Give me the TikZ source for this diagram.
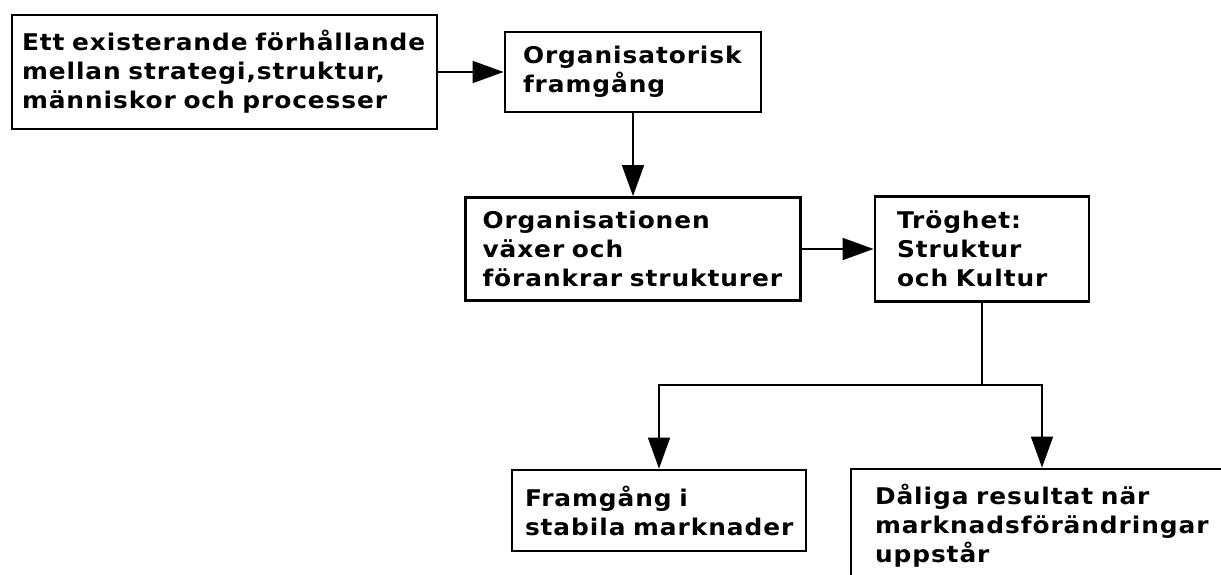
\documentclass[tikz,border=0pt]{standalone}
\usepackage{fontspec}
\setmainfont{DejaVu Sans}[FakeStretch=1.08, LetterSpace=4]
\usetikzlibrary{arrows.meta}

\begin{document}
\begin{tikzpicture}[x=1pt,y=-1pt,
  box/.style={draw=black, line width=2.8pt, fill=white, inner ysep=0pt,
    align=left, font=\fontsize{23}{29}\selectfont\bfseries},
  link/.style={line width=1.6pt, -{Triangle[length=31pt,width=22pt]}},
  wire/.style={line width=1.6pt}]
\useasboundingbox (0,0) rectangle (1221,575);
\clip (0,0) rectangle (1221,575);

% boxes: text width = box width - 2 x padding
\node[box, minimum width=425pt, minimum height=114pt, text width=405pt, inner xsep=10pt]
  (a) at (224.5,72) {Ett existerande förhållande\\mellan strategi,struktur,\\människor och processer};
\node[box, minimum width=256pt, minimum height=80pt, text width=220pt, inner xsep=18pt]
  (b) at (633,72) {Organisatorisk\\framgång};
\node[box, minimum width=335pt, minimum height=103pt, text width=301pt, inner xsep=17pt]
  (c) at (633,249) {Organisationen\\växer och\\förankrar strukturer};
\node[box, minimum width=214pt, minimum height=105pt, text width=170pt, inner xsep=22pt]
  (d) at (982,249) {Tröghet:\\Struktur\\och Kultur};
\node[box, minimum width=294pt, minimum height=81pt, text width=268pt, inner xsep=13pt]
  (e) at (659,510.5) {Framgång i\\stabila marknader};
\node[box, minimum width=382pt, minimum height=113pt, text width=334pt, inner xsep=24pt]
  (f) at (1042,525.5) {Dåliga resultat när\\marknadsförändringar\\uppstår};

% connectors
\coordinate (split) at (982,385);
\draw[link] (a.east) -- (b.west);
\draw[link] (b.south) -- (c.north);
\draw[link] (c.east) -- (d.west);
\draw[wire] (d.south) -- (split);
\draw[link] (split) -| (e.north);
\draw[link] (split) -| (f.north);
\end{tikzpicture}
\end{document}
